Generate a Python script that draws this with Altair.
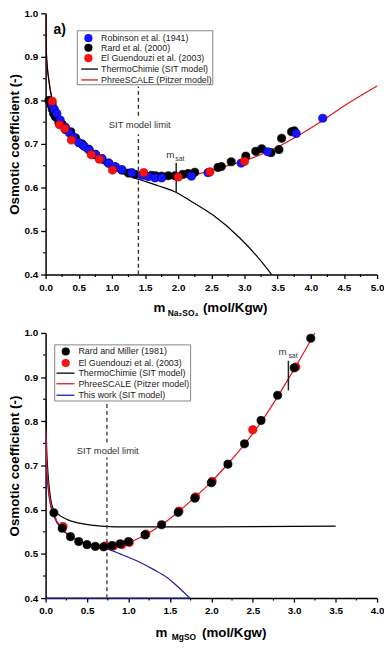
import altair as alt
import pandas as pd

FONT = "Liberation Sans"
W = 335
H1 = 264
H2 = 268

# ---------------- Panel a) Na2SO4 ----------------
a_xticks = [0.0, 0.5, 1.0, 1.5, 2.0, 2.5, 3.0, 3.5, 4.0, 4.5, 5.0]
a_xminor = [0.25, 0.75, 1.25, 1.75, 2.25, 2.75, 3.25, 3.75, 4.25, 4.75]
yticks = [0.4, 0.5, 0.6, 0.7, 0.8, 0.9, 1.0]
yminor = [0.45, 0.55, 0.65, 0.75, 0.85, 0.95]

rob_x = [0.1, 0.13, 0.17, 0.22, 0.3, 0.36, 0.42, 0.5, 0.58, 0.66, 0.75, 0.85, 0.95, 1.05,
         1.15, 1.3, 1.45, 1.55, 1.65, 1.75, 2.2, 2.45, 2.95, 3.35, 3.78, 4.18]
rob_y = [0.79, 0.78, 0.77, 0.755, 0.738, 0.725, 0.715, 0.703, 0.695, 0.686, 0.676, 0.666,
         0.656, 0.648, 0.641, 0.634, 0.628, 0.625, 0.622, 0.622, 0.626, 0.634, 0.656,
         0.682, 0.724, 0.759]

rard_x = [0.05, 0.08, 0.1, 0.12, 0.15, 0.2, 0.25, 0.3, 0.38, 0.45, 0.55, 0.65, 0.75, 0.85,
          0.95, 1.05, 1.15, 1.25, 1.35, 1.5, 1.6, 1.66, 1.75, 1.85, 1.95, 2.07, 2.15, 2.25,
          2.6, 2.65, 2.8, 3.02, 3.17, 3.26, 3.4, 3.52, 3.56, 3.71, 3.75]
rard_y = [0.80, 0.79, 0.78, 0.77, 0.762, 0.75, 0.745, 0.733, 0.728, 0.714, 0.70, 0.688,
          0.676, 0.666, 0.656, 0.647, 0.64, 0.633, 0.63, 0.628, 0.628, 0.627, 0.626,
          0.627, 0.627, 0.63, 0.632, 0.635, 0.646, 0.648, 0.659, 0.672, 0.683, 0.689,
          0.68, 0.687, 0.713, 0.728, 0.73]

elg_a_x = [0.1, 0.21, 0.29, 0.39, 0.69, 0.81, 1.01, 1.48, 2.0, 2.48, 3.0]
elg_a_y = [0.798, 0.744, 0.735, 0.709, 0.675, 0.665, 0.64, 0.634, 0.624, 0.636, 0.66]

pitz_a_x = [0.001, 0.005, 0.01, 0.03, 0.05, 0.1, 0.2, 0.3, 0.44, 0.6, 0.8, 0.94, 1.2, 1.4,
            1.7, 1.98, 2.3, 2.58, 3.07, 3.5, 3.82, 4.18, 4.5, 5.0]
pitz_a_y = [0.995, 0.94, 0.915, 0.87, 0.845, 0.80, 0.757, 0.733, 0.705, 0.686, 0.665, 0.65,
            0.637, 0.629, 0.624, 0.623, 0.631, 0.643, 0.665, 0.693, 0.72, 0.754, 0.787, 0.833]

sit_a_x = [0.001, 0.005, 0.01, 0.03, 0.05, 0.1, 0.2, 0.3, 0.44, 0.6, 0.8, 1.0, 1.2, 1.4,
           1.7, 1.98, 2.2, 2.53, 2.93, 3.2, 3.41]
sit_a_y = [0.995, 0.94, 0.915, 0.87, 0.845, 0.80, 0.757, 0.732, 0.703, 0.683, 0.661, 0.645,
           0.63, 0.619, 0.604, 0.588, 0.568, 0.536, 0.484, 0.44, 0.40]

a_legend_labels = ["Robinson et al. (1941)", "Rard et al. (2000)", "El Guendouzi et al. (2003)",
                   "ThermoChimie (SIT model)", "PhreeSCALE (Pitzer model)"]

# ---------------- Panel b) MgSO4 ----------------
b_xticks = [0.0, 0.5, 1.0, 1.5, 2.0, 2.5, 3.0, 3.5, 4.0]
b_xminor = [0.25, 0.75, 1.25, 1.75, 2.25, 2.75, 3.25, 3.75]

rm_x = [0.1, 0.2, 0.3, 0.4, 0.5, 0.6, 0.7, 0.8, 0.9, 1.0, 1.2, 1.4, 1.6, 1.8, 2.0, 2.2,
        2.4, 2.6, 2.8, 3.0, 3.2]
rm_y = [0.593, 0.558, 0.539, 0.528, 0.521, 0.517, 0.516, 0.519, 0.523, 0.528, 0.543,
        0.566, 0.594, 0.626, 0.661, 0.703, 0.749, 0.802, 0.859, 0.921, 0.988]

elg_b_x = [0.21, 0.72, 0.82, 0.92, 1.01, 1.21, 1.61, 1.81, 2.01, 2.5, 3.02]
elg_b_y = [0.562, 0.518, 0.518, 0.521, 0.526, 0.545, 0.597, 0.629, 0.664, 0.781, 0.923]

pitz_b_x = [0.003, 0.01, 0.03, 0.06, 0.1, 0.2, 0.3, 0.4, 0.5, 0.6, 0.75, 0.9, 1.0, 1.2,
            1.4, 1.6, 1.8, 2.0, 2.2, 2.4, 2.6, 2.8, 3.0, 3.25]
pitz_b_y = [0.78, 0.72, 0.66, 0.615, 0.59, 0.557, 0.54, 0.53, 0.523, 0.519, 0.517, 0.521,
            0.526, 0.543, 0.566, 0.595, 0.628, 0.663, 0.704, 0.748, 0.798, 0.856, 0.918, 1.0]

sit_b_x = [0.002, 0.01, 0.03, 0.05, 0.07, 0.1, 0.15, 0.27, 0.45, 0.67, 1.0, 2.0, 3.5]
sit_b_y = [0.85, 0.76, 0.68, 0.64, 0.615, 0.60, 0.59, 0.577, 0.568, 0.563, 0.561, 0.561, 0.563]

tw_x = [0.003, 0.01, 0.03, 0.06, 0.1, 0.2, 0.3, 0.4, 0.5, 0.6, 0.73, 0.9, 1.15, 1.3,
        1.47, 1.6, 1.74]
tw_y = [0.78, 0.71, 0.65, 0.61, 0.585, 0.555, 0.54, 0.53, 0.522, 0.517, 0.512, 0.50,
        0.48, 0.465, 0.446, 0.425, 0.40]

b_legend_labels = ["Rard and Miller (1981)", "El Guendouzi et al. (2003)",
                   "ThermoChimie (SIT model)", "PhreeSCALE (Pitzer model)",
                   "This work (SIT model)"]

BLUE = "#1414ff"
RED = "#ff1010"
BLACK = "#000000"
NAVY = "#1c1ca6"
LRED = "#e3141c"
MSIZE = 68


def X(dom, ticks):
    return alt.X("x:Q", scale=alt.Scale(domain=dom, nice=False, zero=False),
                 axis=alt.Axis(values=ticks, format=".1f", title=None, tickSize=4,
                               labelPadding=4, grid=False, labelFlush=False,
                               labelOverlap=False))


def Y():
    return alt.Y("y:Q", scale=alt.Scale(domain=[0.4, 1.0], nice=False, zero=False),
                 axis=alt.Axis(values=yticks, format=".1f", title="Osmotic coefficient (-)",
                               tickSize=5, labelPadding=3, titlePadding=2, grid=False,
                               labelFlush=False, labelOverlap=False))


def panel(H, dom, ticks, minor, lines, points, legend, extras, title_parts):
    xe = X(dom, ticks)
    ye = Y()
    layers = []
    for (lx, ly, col) in lines:
        layers.append(alt.Chart(pd.DataFrame({"x": lx, "y": ly})).mark_line(
            color=col, strokeWidth=1.2, clip=True, interpolate="monotone").encode(x=xe, y=ye))
    layers += extras(xe, ye)
    for (px, py, col, edge) in points:
        layers.append(alt.Chart(pd.DataFrame({"x": px, "y": py})).mark_circle(
            size=MSIZE, color=col, opacity=1, stroke=edge, strokeWidth=0.7).encode(x=xe, y=ye))
    # minor ticks
    layers.append(alt.Chart(pd.DataFrame({"x": minor})).mark_rule(
        color="black", strokeWidth=1.2).encode(x=xe, y=alt.value(H), y2=alt.value(H + 2.5)))
    layers.append(alt.Chart(pd.DataFrame({"y": yminor})).mark_rule(
        color="black", strokeWidth=1.2).encode(y=ye, x=alt.value(0), x2=alt.value(-2.5)))
    # legend
    (bx1, bx2, by1, by2, sx, lx1, lx2, tx, rows, kinds, cols, labels) = legend
    layers.append(alt.Chart(pd.DataFrame({"x": [bx1], "x2": [bx2], "y": [by1], "y2": [by2]}))
                  .mark_rect(fill="white", stroke="#666", strokeWidth=0.8)
                  .encode(x=xe, x2="x2:Q", y=ye, y2="y2:Q"))
    for ry, kind, col, lab in zip(rows, kinds, cols, labels):
        if kind == "pt":
            layers.append(alt.Chart(pd.DataFrame({"x": [sx], "y": [ry]})).mark_circle(
                size=MSIZE, color=col, opacity=1).encode(x=xe, y=ye))
        else:
            layers.append(alt.Chart(pd.DataFrame({"x": [lx1], "x2": [lx2], "y": [ry]})).mark_rule(
                color=col, strokeWidth=1.3).encode(x=xe, x2="x2:Q", y=ye))
        layers.append(alt.Chart(pd.DataFrame({"x": [tx], "y": [ry], "t": [lab]})).mark_text(
            align="left", baseline="middle", font=FONT, fontSize=9, color="#222")
            .encode(x=xe, y=ye, text="t:N"))
    # x-axis title with subscript
    for (txt, px, dy, fs) in title_parts:
        layers.append(alt.Chart(pd.DataFrame({"t": [txt]})).mark_text(
            align="left", baseline="middle", font=FONT, fontSize=fs, fontWeight="bold",
            color="black").encode(text="t:N", x=alt.value(px), y=alt.value(H + dy)))
    return alt.layer(*layers).properties(width=W, height=H)


def extras_a(xe, ye):
    L = []
    L.append(alt.Chart(pd.DataFrame({"x": [1.4, 1.4], "y": [0.4, 0.765], "y2": [0.722, 0.832]}))
             .mark_rule(color="#333", strokeWidth=1.4, strokeDash=[4, 3])
             .encode(x=xe, y=ye, y2="y2:Q"))
    L.append(alt.Chart(pd.DataFrame({"x": [1.42], "y": [0.743], "t": ["SIT model limit"]}))
             .mark_text(font=FONT, fontSize=9.5, color="#333", baseline="middle")
             .encode(x=xe, y=ye, text="t:N"))
    L.append(alt.Chart(pd.DataFrame({"x": [1.97], "y": [0.589], "y2": [0.657]}))
             .mark_rule(color="#222", strokeWidth=1.5).encode(x=xe, y=ye, y2="y2:Q"))
    L.append(alt.Chart(pd.DataFrame({"x": [1.82], "y": [0.674], "t": ["m"]}))
             .mark_text(font=FONT, fontSize=10, color="#333", align="left", baseline="middle")
             .encode(x=xe, y=ye, text="t:N"))
    L.append(alt.Chart(pd.DataFrame({"x": [1.955], "y": [0.666], "t": ["sat"]}))
             .mark_text(font=FONT, fontSize=7, color="#333", align="left", baseline="middle")
             .encode(x=xe, y=ye, text="t:N"))
    L.append(alt.Chart(pd.DataFrame({"x": [0.12], "y": [0.962], "t": ["a)"]}))
             .mark_text(font=FONT, fontSize=14, fontWeight="bold", color="black",
                        align="left", baseline="middle")
             .encode(x=xe, y=ye, text="t:N"))
    return L


def extras_b(xe, ye):
    L = []
    L.append(alt.Chart(pd.DataFrame({"x": [0.0], "x2": [1.74], "y": [0.4]}))
             .mark_rule(color=NAVY, strokeWidth=1.2).encode(x=xe, x2="x2:Q", y=ye))
    L.append(alt.Chart(pd.DataFrame({"x": [0.74, 0.74], "y": [0.4, 0.752], "y2": [0.718, 0.841]}))
             .mark_rule(color="#444", strokeWidth=1.4, strokeDash=[4, 3])
             .encode(x=xe, y=ye, y2="y2:Q"))
    L.append(alt.Chart(pd.DataFrame({"x": [0.75], "y": [0.733], "t": ["SIT model limit"]}))
             .mark_text(font=FONT, fontSize=9.5, color="#333", baseline="middle")
             .encode(x=xe, y=ye, text="t:N"))
    L.append(alt.Chart(pd.DataFrame({"x": [2.93], "y": [0.870], "y2": [0.937]}))
             .mark_rule(color="#222", strokeWidth=1.5).encode(x=xe, y=ye, y2="y2:Q"))
    L.append(alt.Chart(pd.DataFrame({"x": [2.81], "y": [0.956], "t": ["m"]}))
             .mark_text(font=FONT, fontSize=10, color="#333", align="left", baseline="middle")
             .encode(x=xe, y=ye, text="t:N"))
    L.append(alt.Chart(pd.DataFrame({"x": [2.93], "y": [0.948], "t": ["sat"]}))
             .mark_text(font=FONT, fontSize=7, color="#333", align="left", baseline="middle")
             .encode(x=xe, y=ye, text="t:N"))
    return L


top = panel(
    H1, [0, 5], a_xticks, a_xminor,
    lines=[(pitz_a_x, pitz_a_y, LRED), (sit_a_x, sit_a_y, BLACK)],
    points=[(rard_x, rard_y, BLACK, "#000"), (rob_x, rob_y, BLUE, "#0000b0"),
            (elg_a_x, elg_a_y, RED, "#c00000")],
    legend=(0.478, 2.522, 0.960, 0.836, 0.646, 0.537, 0.791, 0.836,
            [0.943, 0.921, 0.897, 0.872, 0.847],
            ["pt", "pt", "pt", "ln", "ln"], [BLUE, BLACK, RED, BLACK, LRED], a_legend_labels),
    extras=extras_a,
    title_parts=[("m", 109, 34, 13.5), ("Na\u2082SO\u2084", 123.5, 38.5, 8.5),
                 ("(mol/Kgw)", 159, 34, 13.5)],
)

bottom = panel(
    H2, [0, 4], b_xticks, b_xminor,
    lines=[(sit_b_x, sit_b_y, BLACK), (tw_x, tw_y, NAVY), (pitz_b_x, pitz_b_y, LRED)],
    points=[(elg_b_x, elg_b_y, RED, "#c00000"), (rm_x, rm_y, BLACK, "#000")],
    legend=(0.11, 1.75, 0.973, 0.846, 0.243, 0.132, 0.348, 0.396,
            [0.958, 0.932, 0.909, 0.885, 0.859],
            ["pt", "pt", "ln", "ln", "ln"], [BLACK, RED, BLACK, LRED, NAVY], b_legend_labels),
    extras=extras_b,
    title_parts=[("m", 111, 35, 13.5), ("MgSO", 127.5, 39.5, 8.5),
                 ("(mol/Kgw)", 158, 35, 13.5)],
)

chart = alt.vconcat(top, bottom, spacing=11).properties(
    padding={"left": 0, "top": -3, "right": 0, "bottom": 0}
).configure_view(stroke=None).configure_axis(
    labelFont=FONT, labelFontSize=10, labelFontWeight="bold", labelColor="black",
    titleFont=FONT, titleFontSize=13.5, titleFontWeight="bold", titleColor="black",
    domainColor="black", domainWidth=1.5, tickColor="black", tickWidth=1.3,
)

chart.save("out.html", embed_options={"renderer": "svg", "actions": False})
